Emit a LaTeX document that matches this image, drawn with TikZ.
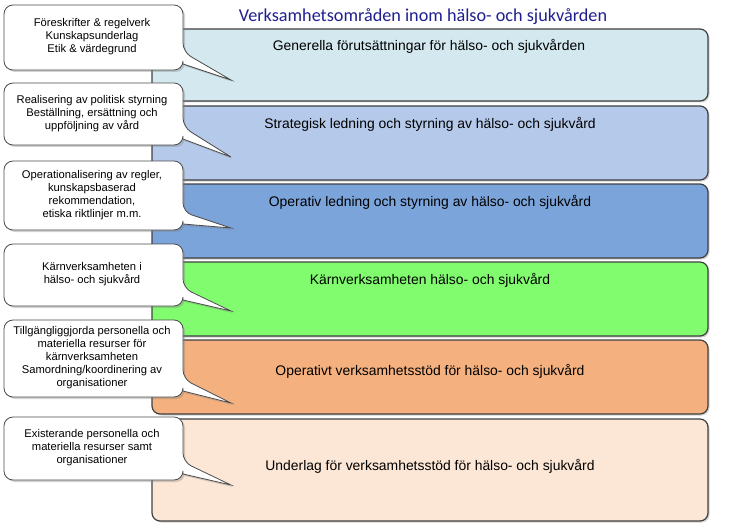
\documentclass[tikz,border=0pt]{standalone}
\usepackage{fontspec}
\setmainfont{Liberation Sans}
\newfontfamily\titlefont{Carlito}
\usetikzlibrary{shadows}
\definecolor{bA}{HTML}{D3E9EF}
\definecolor{bB}{HTML}{B5C9EA}
\definecolor{bC}{HTML}{7BA4DB}
\definecolor{bD}{HTML}{80FC6E}
\definecolor{bE}{HTML}{F4B07E}
\definecolor{bF}{HTML}{FCE6D5}
\definecolor{ttl}{HTML}{1F1F8F}
\tikzset{
  band/.style={draw=black!75,line width=1.2pt,rounded corners=8pt,drop shadow={opacity=0.35,shadow xshift=1.5pt,shadow yshift=-1.5pt}},
  bandlabel/.style={font=\fontsize{13.9}{15}\selectfont,anchor=center},
  callout/.style={draw=black!70,fill=white,line width=0.8pt,drop shadow={opacity=0.35,shadow xshift=2pt,shadow yshift=-2pt}},
  calltext/.style={font=\fontsize{11.2}{13}\selectfont,align=center,anchor=center}
}
\begin{document}
\begin{tikzpicture}[x=1pt,y=-1pt]
\useasboundingbox (0,0) rectangle (748,527);
% bands
\foreach \t/\b/\c/\n in {29/101/bA/1,106/180/bB/2,184/258/bC/3,262/336/bD/4,340/414/bE/5,419/521/bF/6}{
  \draw[band,fill=\c] (152,\t) rectangle (708,\b);
}
\node[font=\titlefont\fontsize{18.2}{20}\selectfont,text=ttl] (title) at (423,17) {Verksamhetsområden inom hälso- och sjukvården};
\node[bandlabel] (l1) at (429,46) {Generella förutsättningar för hälso- och sjukvården};
\node[bandlabel] (l2) at (430,124) {Strategisk ledning och styrning av hälso- och sjukvård};
\node[bandlabel] (l3) at (430,202) {Operativ ledning och styrning av hälso- och sjukvård};
\node[bandlabel] (l4) at (430,280) {Kärnverksamheten hälso- och sjukvård};
\node[bandlabel] (l5) at (430,371) {Operativt verksamhetsstöd för hälso- och sjukvård};
\node[bandlabel] (l6) at (430,466) {Underlag för verksamhetsstöd för hälso- och sjukvård};
% callouts
\foreach \t/\b/\tip in {5/70/80,83/145/157,161/230/228,244/306/311,320/397/403,417/480/485}{
  \draw[callout] [rounded corners=9pt] (4,\b) -- (4,\t) -- (183,\t) -- (183,\b-18) [sharp corners] -- (231,\tip) -- (183,\b-6) [rounded corners=9pt] -- (183,\b) -- cycle;
}
\node[calltext] (c1) at (92,37) {Föreskrifter \& regelverk\\Kunskapsunderlag\\Etik \& värdegrund};
\node[calltext] (c2) at (92,114) {Realisering av politisk styrning\\Beställning, ersättning och\\uppföljning av vård};
\node[calltext] (c3) at (92,195) {Operationalisering av regler,\\kunskapsbaserad\\rekommendation,\\etiska riktlinjer m.m.};
\node[calltext] (c4) at (92,274) {Kärnverksamheten i\\hälso- och sjukvård};
\node[calltext] (c5) at (92,358) {Tillgängliggjorda personella och\\materiella resurser för\\kärnverksamheten\\Samordning/koordinering av\\organisationer};
\node[calltext] (c6) at (92,448) {Existerande personella och\\materiella resurser samt\\organisationer};
\end{tikzpicture}
\end{document}
